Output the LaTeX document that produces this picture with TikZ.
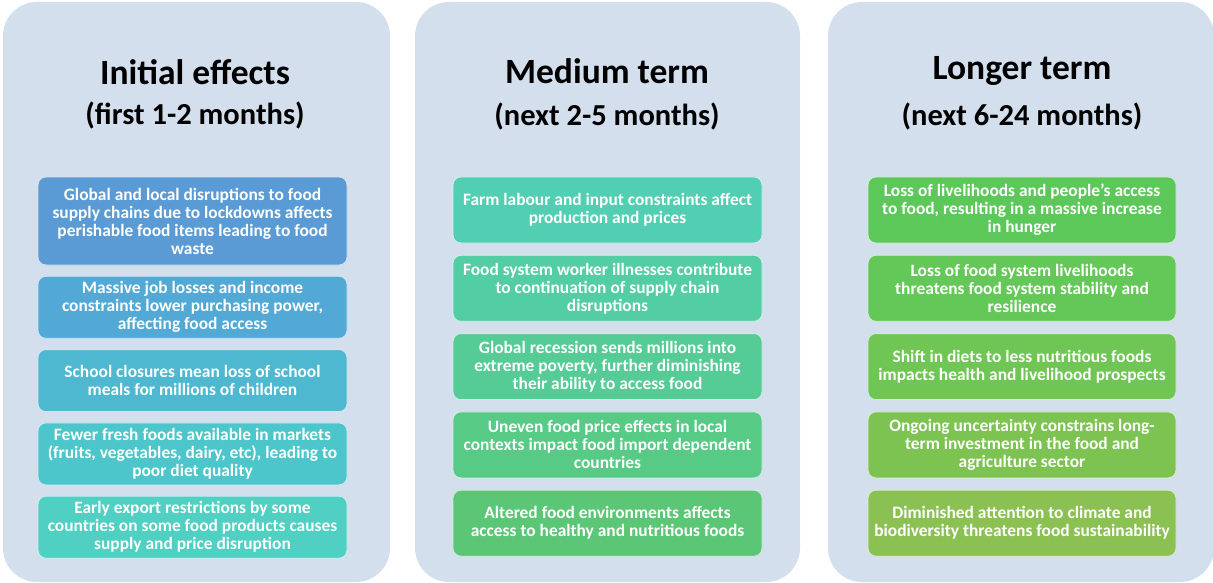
\documentclass[tikz,border=0pt]{standalone}
\usepackage{fontspec}
\setmainfont{Carlito}
\usetikzlibrary{positioning}
\definecolor{panelbg}{HTML}{D4DFEE}
\definecolor{ia}{HTML}{5B9BD5}
\definecolor{ib}{HTML}{52A9D6}
\definecolor{ic}{HTML}{4DB8D0}
\definecolor{id}{HTML}{4CC6CB}
\definecolor{ie}{HTML}{4FD0C2}
\definecolor{ma}{HTML}{52CFB2}
\definecolor{mb}{HTML}{53CEA4}
\definecolor{mc}{HTML}{55CB95}
\definecolor{md}{HTML}{57CA86}
\definecolor{me}{HTML}{5BC776}
\definecolor{la}{HTML}{5CC85A}
\definecolor{lb}{HTML}{63C858}
\definecolor{lc}{HTML}{6FC654}
\definecolor{ld}{HTML}{7DC351}
\definecolor{le}{HTML}{8BC153}
\tikzset{
  panel/.style={fill=panelbg, rounded corners=34pt, inner sep=0pt, minimum height=580pt},
  heading/.style={font=\fontsize{35.5}{40}\selectfont\bfseries, text=black},
  subheading/.style={font=\fontsize{30.5}{36}\selectfont\bfseries, text=black},
  effect/.style={draw=white!70!#1, line width=0.8pt, fill=#1, rounded corners=8pt,
    text=white, font=\fontsize{17.4}{18}\selectfont\bfseries, align=center,
    minimum width=309pt, inner sep=1pt},
}
\begin{document}
\begin{tikzpicture}[x=1pt,y=-1pt]
\useasboundingbox (0,0) rectangle (1213,583);
% panels
\node[panel, minimum width=387pt] (pinit) at (196.5,292) {};
\node[panel, minimum width=385pt] (pmed) at (607.5,292) {};
\node[panel, minimum width=386pt] (plong) at (1021,292) {};
% headings
\node[heading] (hinit) at (195,72) {Initial effects};
\node[subheading] (sinit) at (195,115) {(first 1-2 months)};
\node[heading] (hmed) at (607,71) {Medium term};
\node[subheading] (smed) at (607,116) {(next 2-5 months)};
\node[heading] (hlong) at (1022,71) {Longer term};
\node[subheading] (slong) at (1022,116) {(next 6-24 months)};
% initial effects
\node[effect=ia, minimum height=88pt] (i1) at (192.5,221) {Global and local disruptions to food\\supply chains due to lockdowns affects\\perishable food items leading to food\\waste};
\node[effect=ib, minimum height=62pt, below=10.5pt of i1] (i2) {Massive job losses and income\\constraints lower purchasing power,\\affecting food access};
\node[effect=ic, minimum height=62pt, below=10.5pt of i2] (i3) {School closures mean loss of school\\meals for millions of children};
\node[effect=id, minimum height=62pt, below=10.5pt of i3] (i4) {Fewer fresh foods available in markets\\(fruits, vegetables, dairy, etc), leading to\\poor diet quality};
\node[effect=ie, minimum height=62pt, below=10.5pt of i4] (i5) {Early export restrictions by some\\countries on some food products causes\\supply and price disruption};
% medium term
\node[effect=ma, minimum height=66pt] (m1) at (607.5,210) {Farm labour and input constraints affect\\production and prices};
\node[effect=mb, minimum height=66pt, below=11.5pt of m1] (m2) {Food system worker illnesses contribute\\to continuation of supply chain\\disruptions};
\node[effect=mc, minimum height=66pt, below=11.5pt of m2] (m3) {Global recession sends millions into\\extreme poverty, further diminishing\\their ability to access food};
\node[effect=md, minimum height=66pt, below=11.5pt of m3] (m4) {Uneven food price effects in local\\contexts impact food import dependent\\countries};
\node[effect=me, minimum height=66pt, below=11.5pt of m4] (m5) {Altered food environments affects\\access to healthy and nutritious foods};
% longer term
\node[effect=la, minimum height=66pt, minimum width=308pt] (l1) at (1022,210) {Loss of livelihoods and people’s access\\to food, resulting in a massive increase\\in hunger};
\node[effect=lb, minimum height=66pt, minimum width=308pt, below=11.5pt of l1] (l2) {Loss of food system livelihoods\\threatens food system stability and\\resilience};
\node[effect=lc, minimum height=66pt, minimum width=308pt, below=11.5pt of l2] (l3) {Shift in diets to less nutritious foods\\impacts health and livelihood prospects};
\node[effect=ld, minimum height=66pt, minimum width=308pt, below=11.5pt of l3] (l4) {Ongoing uncertainty constrains long-\\term investment in the food and\\agriculture sector};
\node[effect=le, minimum height=66pt, minimum width=308pt, below=11.5pt of l4] (l5) {Diminished attention to climate and\\biodiversity threatens food sustainability};
\end{tikzpicture}
\end{document}
